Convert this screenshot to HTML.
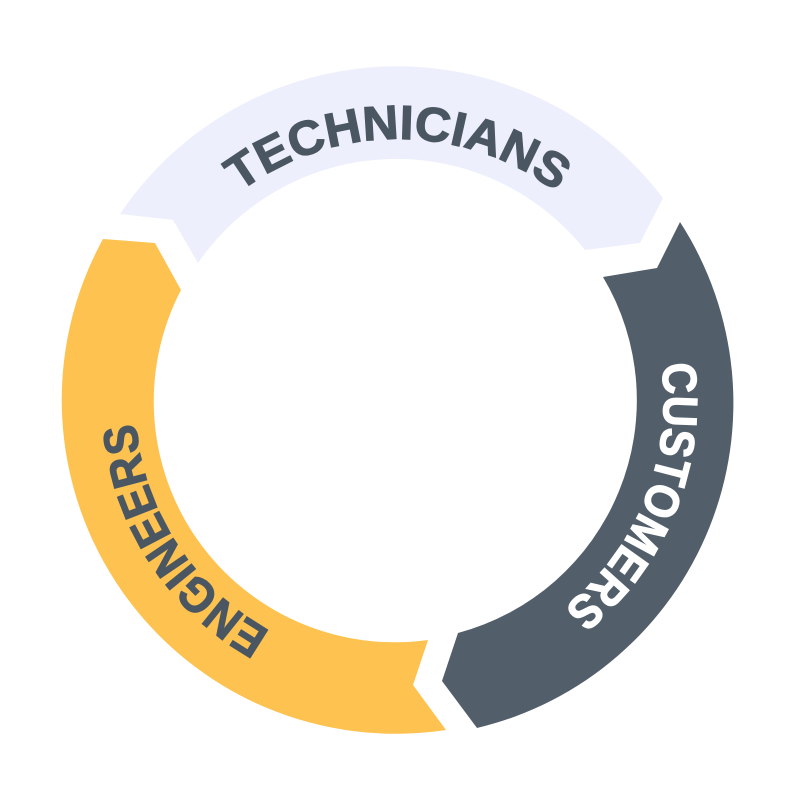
<!DOCTYPE html>
<html><head><style>html,body{margin:0;padding:0;background:#fff;}svg{display:block}</style></head>
<body>
<svg width="800" height="800" viewBox="0 0 800 800" xmlns="http://www.w3.org/2000/svg">
<defs>
<path id="pt" d="M 135,402 A 263 263 0 0 1 661,402"/>
<path id="pc" d="M 498,156 A 263 263 0 0 1 302,646"/>
<path id="pe" d="M 541,622 A 263 263 0 0 1 255,180"/>
</defs>
<path d="M 120,214 A 334 334 0 0 1 663,198 L 640,243 L 585,250 A 241 241 0 0 0 198,263 L 173,220 Z" fill="#eeeffd"/>
<path d="M 680,222 A 334 334 0 0 1 477,728 L 442,681 L 458,633 A 241 241 0 0 0 603,277 L 657,268 Z" fill="#525f6b"/>
<path d="M 446,730 A 334 334 0 0 1 103,239 L 155,243 L 181,290 A 241 241 0 0 0 428,640 L 413,685 Z" fill="#fdc250"/>
<g font-family="Liberation Sans, sans-serif" font-weight="bold" font-size="48" stroke-width="1.2">
<text fill="#4a5661" stroke="#4a5661"><textPath href="#pt" startOffset="50%" text-anchor="middle" textLength="340" lengthAdjust="spacingAndGlyphs">TECHNICIANS</textPath></text>
<text fill="#ffffff" stroke="#ffffff"><textPath href="#pc" startOffset="50%" text-anchor="middle" textLength="275" lengthAdjust="spacingAndGlyphs">CUSTOMERS</textPath></text>
<text fill="#4a5661" stroke="#4a5661"><textPath href="#pe" startOffset="50%" text-anchor="middle" textLength="258" lengthAdjust="spacingAndGlyphs">ENGINEERS</textPath></text>
</g>
</svg>
</body></html>
